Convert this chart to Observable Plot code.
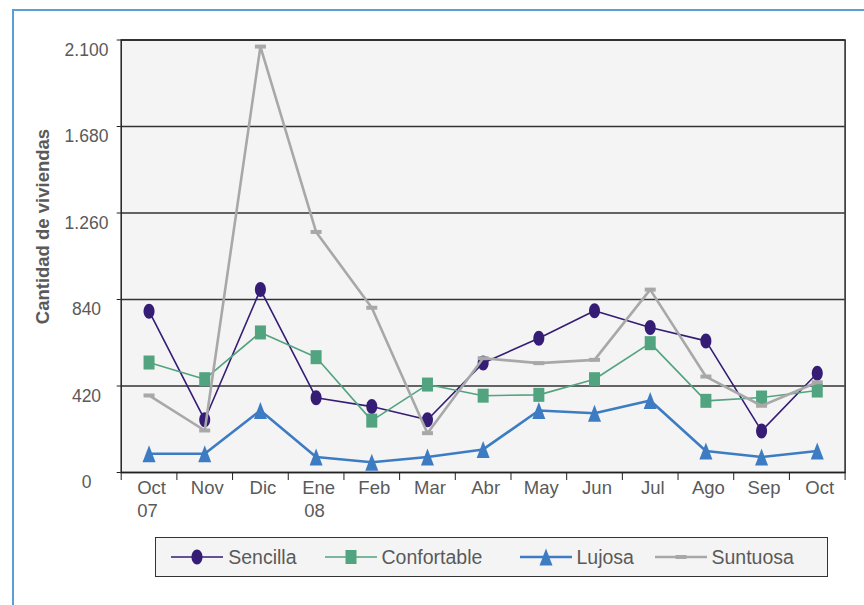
<!DOCTYPE html>
<html>
<head>
<meta charset="utf-8">
<script src="https://cdn.jsdelivr.net/npm/d3@7"></script>
<script src="https://cdn.jsdelivr.net/npm/@observablehq/plot@0.6"></script>
<style>
  body { margin: 0; background: #fff; font-family: "Liberation Sans", Arial, sans-serif; }
  #wrap { position: relative; width: 864px; height: 605px; overflow: hidden; }
  #frame { position: absolute; left: 12px; top: 9px; width: 860px; height: 600px;
           border-left: 2px solid #5b9fd6; border-top: 2px solid #5b9fd6; pointer-events: none; }
  #chart { position: absolute; left: 0; top: 0; }
  #legend { position: absolute; left: 155px; top: 537px; width: 671px; height: 38px;
            background: #f4f4f4; border: 1.5px solid #333; }
  .item { position: absolute; top: 0; height: 38px; display: flex; align-items: center; }
  .item span { font-size: 19.5px; color: #5a5a5a; margin-left: 5px; }
</style>
</head>
<body>
<div id="wrap"><div id="frame"></div><div id="chart"></div><div id="legend"></div></div>
<script>
// ---- data ----
const months = ["Oct", "Nov", "Dic", "Ene", "Feb", "Mar", "Abr", "May", "Jun", "Jul", "Ago", "Sep", "Oct"];
const years  = ["07", "", "", "08", "", "", "", "", "", "", "", "", ""];
const seriesNames = ["Sencilla", "Confortable", "Lujosa", "Suntuosa"];
const sencilla    = [783, 256, 888, 363, 320, 256, 532, 652, 785, 704, 639, 202, 482];
const confortable = [534, 453, 680, 560, 252, 427, 373, 377, 453, 628, 348, 364, 398];
const lujosa      = [91, 91, 301, 75, 50, 75, 112, 301, 288, 350, 104, 75, 104];
const suntuosa    = [374, 204, 2068, 1168, 800, 191, 555, 531, 547, 888, 466, 324, 438];
const yTicks = [0, 420, 840, 1260, 1680, 2100];
const yTitle = "Cantidad de viviendas";

// ---- custom marker shapes ----
const ellipse = (rx, ry) => ({draw(ctx) {
  const k = 0.5523;
  ctx.moveTo(rx, 0);
  ctx.bezierCurveTo(rx, k * ry, k * rx, ry, 0, ry);
  ctx.bezierCurveTo(-k * rx, ry, -rx, k * ry, -rx, 0);
  ctx.bezierCurveTo(-rx, -k * ry, -k * rx, -ry, 0, -ry);
  ctx.bezierCurveTo(k * rx, -ry, rx, -k * ry, rx, 0);
  ctx.closePath();
}});
const rect = (w, h) => ({draw(ctx) {
  ctx.moveTo(-w / 2, -h / 2); ctx.lineTo(w / 2, -h / 2); ctx.lineTo(w / 2, h / 2); ctx.lineTo(-w / 2, h / 2); ctx.closePath();
}});
const tri = (w, h) => ({draw(ctx) {
  ctx.moveTo(0, -h / 2); ctx.lineTo(w / 2, h / 2); ctx.lineTo(-w / 2, h / 2); ctx.closePath();
}});

const series = [
  {name: seriesNames[0], values: sencilla,    color: "#351c75", width: 1.6, symbol: ellipse(5.5, 7.5)},
  {name: seriesNames[1], values: confortable, color: "#52a37f", width: 1.6, symbol: rect(11, 14)},
  {name: seriesNames[2], values: lujosa,      color: "#3d7cc3", width: 2.6, symbol: tri(13, 17)},
  {name: seriesNames[3], values: suntuosa,    color: "#a8a8a8", width: 2.6, symbol: rect(11, 4)}
];

const fmt = d3.formatLocale({decimal: ",", thousands: ".", grouping: [3], currency: ["", ""]}).format(",");
const boundaries = d3.range(months.length + 1).map(i => i - 0.5);
const textColor = "#5a5a5a";

const marks = [
  Plot.frame({fill: "#f4f4f4"}),
  Plot.ruleY(yTicks, {stroke: "#333", strokeWidth: 1.3}),
  Plot.frame({stroke: "#222", strokeWidth: 1.5}),
  Plot.axisY({ticks: yTicks, tickSize: 4, tickFormat: () => "", label: null, stroke: "#222"}),
  Plot.axisX({ticks: boundaries, tickSize: 8, tickFormat: () => "", label: null, stroke: "#222"}),
  Plot.text(yTicks, {y: d => d, text: d => fmt(d), frameAnchor: "left", dx: -34.7, dy: 10,
                     textAnchor: "middle", fontSize: 17.5, fill: textColor}),
  Plot.text(months, {x: (d, i) => i, text: d => d, frameAnchor: "bottom", dy: 21.4, dx: 2.5,
                     fontSize: 18.5, fill: textColor}),
  Plot.text(years, {x: (d, i) => i, text: d => d, frameAnchor: "bottom", dy: 44.5, dx: -1.5,
                    fontSize: 18.5, fill: textColor}),
  Plot.text([yTitle], {frameAnchor: "left", rotate: -90, textAnchor: "middle", dx: -78, dy: -29.7,
                       fontSize: 18.5, fontWeight: "bold", fill: textColor})
];

for (const s of series) {
  const rows = s.values.map((v, i) => ({i, v}));
  marks.push(Plot.line(rows, {x: "i", y: "v", stroke: s.color, strokeWidth: s.width}));
  marks.push(Plot.dot(rows, {x: "i", y: "v", symbol: s.symbol, fill: s.color, stroke: "none", r: 5}));
}

const chart = Plot.plot({
  width: 864,
  height: 530,
  marginLeft: 120.7,
  marginRight: 19.4,
  marginTop: 39.5,
  marginBottom: 58,
  x: {type: "linear", domain: [-0.5, months.length - 0.5], axis: null},
  y: {type: "linear", domain: [0, 2100], axis: null},
  style: {fontFamily: "Liberation Sans, Arial, sans-serif", background: "transparent", overflow: "visible"},
  marks
});
document.getElementById("chart").appendChild(chart);

// ---- legend ----
const legendLeft = [15.2, 168.5, 363.5, 498.5];
const legend = document.getElementById("legend");
series.forEach((s, k) => {
  const item = document.createElement("div");
  item.className = "item";
  item.style.left = legendLeft[k] + "px";
  const svg = d3.create("svg").attr("width", 52).attr("height", 22);
  svg.append("line").attr("x1", 0).attr("x2", 52).attr("y1", 11).attr("y2", 11)
     .attr("stroke", s.color).attr("stroke-width", s.width);
  svg.append("path").attr("transform", "translate(26,11)")
     .attr("d", d3.symbol(s.symbol)()).attr("fill", s.color);
  item.appendChild(svg.node());
  const span = document.createElement("span");
  span.textContent = s.name;
  item.appendChild(span);
  legend.appendChild(item);
});
</script>
</body>
</html>
